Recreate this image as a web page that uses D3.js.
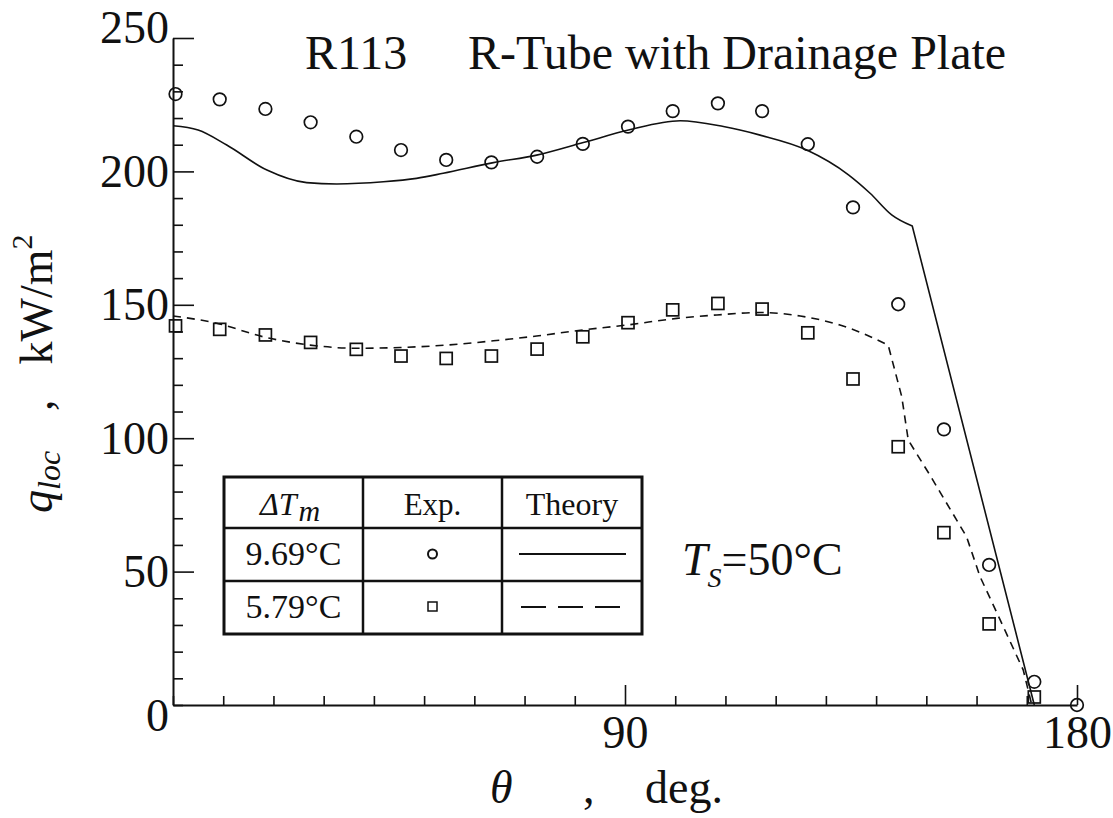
<!DOCTYPE html>
<html>
<head>
<meta charset="utf-8">
<script src="https://cdn.jsdelivr.net/npm/d3@7"></script>
<style>
  body { margin: 0; background: #fff; }
  svg text { font-family: "Liberation Serif", "Times New Roman", "DejaVu Serif", serif; fill: #111; }
</style>
</head>
<body>
<div id="chart"></div>
<script>
// Axes ticks
const thetaTicks = d3.range(0, 181, 10);
const thetaLabels = [90, 180];
const qTicks = d3.range(0, 251, 10);
const qLabels = [0, 50, 100, 150, 200, 250];

const expTheta = [0.5, 9.3, 18.4, 27.4, 36.5, 45.4, 54.4, 63.4, 72.5, 81.6, 90.6, 99.5, 108.5, 117.3, 126.4, 135.4, 144.4, 153.5, 162.5, 171.5, 180];
const expHigh  = [229, 227, 223.4, 218.4, 213, 208, 204.3, 203.4, 205.5, 210.3, 216.8, 222.6, 225.5, 222.6, 210.2, 186.5, 150.2, 103.3, 52.5, 8.7, 0];
const expLow   = [142.1, 140.8, 138.7, 135.9, 133.3, 130.8, 129.9, 130.8, 133.4, 138, 143.3, 148.1, 150.5, 148.4, 139.5, 122.2, 96.8, 64.6, 30.4, 3];

// Theory curves (the smooth part, then the straight drop after the kink)
const theoryHighTheta = [0, 5, 10.7, 18.7, 26.6, 32.6, 41.9, 48.5, 53.8, 63.8, 72.4, 81.7, 90.7, 101, 109.6, 116.9, 126.2, 134.5, 138.8, 143.1, 147.2];
const theoryHighQ     = [217.1, 215.5, 209.9, 200.5, 195.8, 195.3, 196.1, 197.4, 199.3, 203.3, 206.1, 210.8, 215.5, 219, 216.8, 213.6, 208, 198.7, 191.8, 183.7, 179.5];
const theoryHighTailTheta = [147.2, 171.5];
const theoryHighTailQ     = [179.5, 0];
const theoryLowTheta  = [0, 8.7, 18, 27.3, 36.6, 45.2, 54.5, 63.8, 72.4, 81.7, 90.3, 100.3, 108.3, 116.9, 124.9, 132.8, 138.1, 142.4];
const theoryLowQ      = [145.8, 143.1, 138, 134.9, 133.7, 134, 134.9, 136.5, 138.3, 140.6, 142.4, 144.9, 146.2, 147.1, 145.8, 142.4, 138.7, 134.9];
const theoryLowTailTheta = [142.4, 145.1, 146.4, 150.7, 152.7, 158, 160.7, 164.7, 169.3, 171];
const theoryLowTailQ     = [134.9, 115.6, 99.3, 86.2, 79.9, 63.1, 48.1, 31.9, 13.1, 0];

// Legend rows
const legendTemps = ["9.69°C", "5.79°C"];

const width = 1113;
const height = 818;

const svg = d3.select("#chart").append("svg")
  .attr("width", width)
  .attr("height", height);

const x = d3.scaleLinear().domain([0, 180]).range([173, 1077]);
const y = d3.scaleLinear().domain([0, 250]).range([705, 38]);

// x axis, ticks pointing inside
const gx = svg.append("g")
  .attr("transform", `translate(0,${y(0)})`)
  .call(d3.axisBottom(x)
    .tickValues(thetaTicks)
    .tickSizeInner(-9)
    .tickSizeOuter(0)
    .tickFormat(d => thetaLabels.includes(d) ? d : ""));
gx.select(".domain").attr("stroke-width", 2).attr("stroke", "#111");
gx.selectAll(".tick line")
  .attr("y2", d => d % 90 === 0 && d > 0 ? -20 : -9)
  .attr("stroke-width", 1.6).attr("stroke", "#111");
gx.selectAll(".tick text")
  .attr("y", 43).attr("dy", null)
  .attr("font-size", "46px")
  .style("font-family", "'Liberation Serif', serif");

// y axis
const gy = svg.append("g")
  .attr("transform", `translate(${x(0)},0)`)
  .call(d3.axisLeft(y)
    .tickValues(qTicks)
    .tickSizeInner(-10)
    .tickSizeOuter(0)
    .tickPadding(4)
    .tickFormat(d => qLabels.includes(d) ? d : ""));
gy.select(".domain").attr("stroke-width", 2).attr("stroke", "#111");
gy.selectAll(".tick line")
  .attr("x2", d => d % 50 === 0 && d > 0 ? 21 : 10)
  .attr("stroke-width", 1.6).attr("stroke", "#111");
gy.selectAll(".tick text")
  .attr("font-size", "46px")
  .attr("dy", d => d === 0 ? "0.55em" : (d === 250 ? "0.1em" : "0.33em"))
  .style("font-family", "'Liberation Serif', serif");

// theory lines
const smooth = d3.line()
  .x(d => x(d[0]))
  .y(d => y(d[1]))
  .curve(d3.curveMonotoneX);
const straight = d3.line()
  .x(d => x(d[0]))
  .y(d => y(d[1]));

function theoryPath(headT, headQ, tailT, tailQ, dash) {
  const p = svg.append("path")
    .attr("d", smooth(d3.zip(headT, headQ)) + straight(d3.zip(tailT, tailQ)).replace(/^M/, "L"))
    .attr("fill", "none")
    .attr("stroke", "#111")
    .attr("stroke-width", 1.6);
  if (dash) p.attr("stroke-dasharray", dash);
}
theoryPath(theoryHighTheta, theoryHighQ, theoryHighTailTheta, theoryHighTailQ, null);
theoryPath(theoryLowTheta, theoryLowQ, theoryLowTailTheta, theoryLowTailQ, "8,6");

// experimental markers
svg.append("g").selectAll("circle")
  .data(d3.zip(expTheta, expHigh))
  .enter().append("circle")
  .attr("cx", d => x(d[0]))
  .attr("cy", d => y(d[1]))
  .attr("r", 6.3)
  .attr("fill", "none")
  .attr("stroke", "#111")
  .attr("stroke-width", 1.7);

const sq = 12;
svg.append("g").selectAll("rect")
  .data(d3.zip(expTheta.slice(0, expLow.length), expLow))
  .enter().append("rect")
  .attr("x", d => x(d[0]) - sq / 2)
  .attr("y", d => y(d[1]) - sq / 2)
  .attr("width", sq)
  .attr("height", sq)
  .attr("fill", "none")
  .attr("stroke", "#111")
  .attr("stroke-width", 1.7);

// title
const title = svg.append("text")
  .attr("y", 69)
  .attr("font-size", "48px");
title.append("tspan").attr("x", 305).text("R113");
title.append("tspan").attr("x", 468).text("R-Tube with Drainage Plate");

// axis titles
const yl = svg.append("text")
  .attr("transform", "translate(52,513) rotate(-90)")
  .attr("font-size", "46px");
yl.append("tspan").attr("font-style", "italic").text("q");
yl.append("tspan").attr("font-style", "italic").attr("font-size", "32px").attr("dy", 8).text("loc");
yl.append("tspan").attr("dy", -8).attr("dx", 40).text(",");
yl.append("tspan").attr("dx", 35).text("kW/m");
yl.append("tspan").attr("font-size", "30px").attr("dy", -20).text("2");

const xl = svg.append("text")
  .attr("y", 803)
  .attr("font-size", "46px");
xl.append("tspan").attr("x", 490).attr("font-style", "italic").text("θ");
xl.append("tspan").attr("x", 583).text(",");
xl.append("tspan").attr("x", 645).text("deg.");

// T_S annotation
const ts = svg.append("text")
  .attr("x", 682)
  .attr("y", 575)
  .attr("font-size", "46px");
ts.append("tspan").attr("font-style", "italic").text("T");
ts.append("tspan").attr("font-style", "italic").attr("font-size", "28px").attr("dy", 12).text("S");
ts.append("tspan").attr("dy", -12).text("=50°C");

// legend table
const colX = [224, 363, 502, 642];
const rowY = [477, 528, 581, 634];
const leg = svg.append("g");
leg.append("rect")
  .attr("x", colX[0]).attr("y", rowY[0])
  .attr("width", colX[3] - colX[0]).attr("height", rowY[3] - rowY[0])
  .attr("fill", "#fff").attr("stroke", "#111").attr("stroke-width", 3);
[colX[1], colX[2]].forEach(cx => {
  leg.append("line").attr("x1", cx).attr("x2", cx).attr("y1", rowY[0]).attr("y2", rowY[3])
    .attr("stroke", "#111").attr("stroke-width", 2.5);
});
[rowY[1], rowY[2]].forEach(ry => {
  leg.append("line").attr("x1", colX[0]).attr("x2", colX[3]).attr("y1", ry).attr("y2", ry)
    .attr("stroke", "#111").attr("stroke-width", 2.5);
});

const hdr = leg.append("text").attr("x", 260).attr("y", 515).attr("font-size", "32px");
hdr.append("tspan").attr("font-style", "italic").text("ΔT");
hdr.append("tspan").attr("font-style", "italic").attr("font-size", "30px").attr("dy", 6).attr("dx", 2).text("m");

leg.append("text").attr("x", (colX[1] + colX[2]) / 2).attr("y", 515)
  .attr("text-anchor", "middle").attr("font-size", "31px").text("Exp.");
leg.append("text").attr("x", (colX[2] + colX[3]) / 2).attr("y", 515)
  .attr("text-anchor", "middle").attr("font-size", "32px").text("Theory");

leg.selectAll(".temp")
  .data(legendTemps)
  .enter().append("text")
  .attr("class", "temp")
  .attr("x", (colX[0] + colX[1]) / 2)
  .attr("y", (d, i) => (i === 0 ? 565 : 618))
  .attr("text-anchor", "middle")
  .attr("font-size", "34px")
  .text(d => d);

const midExp = (colX[1] + colX[2]) / 2;
leg.append("circle").attr("cx", midExp).attr("cy", 554).attr("r", 4.5)
  .attr("fill", "none").attr("stroke", "#111").attr("stroke-width", 2);
leg.append("rect").attr("x", midExp - 4.5).attr("y", 602).attr("width", 9).attr("height", 9)
  .attr("fill", "none").attr("stroke", "#111").attr("stroke-width", 1.5);

leg.append("line").attr("x1", 519).attr("x2", 626).attr("y1", 554).attr("y2", 554)
  .attr("stroke", "#111").attr("stroke-width", 2);
leg.append("line").attr("x1", 521).attr("x2", 625).attr("y1", 607).attr("y2", 607)
  .attr("stroke", "#111").attr("stroke-width", 2).attr("stroke-dasharray", "25,12");
</script>
</body>
</html>
